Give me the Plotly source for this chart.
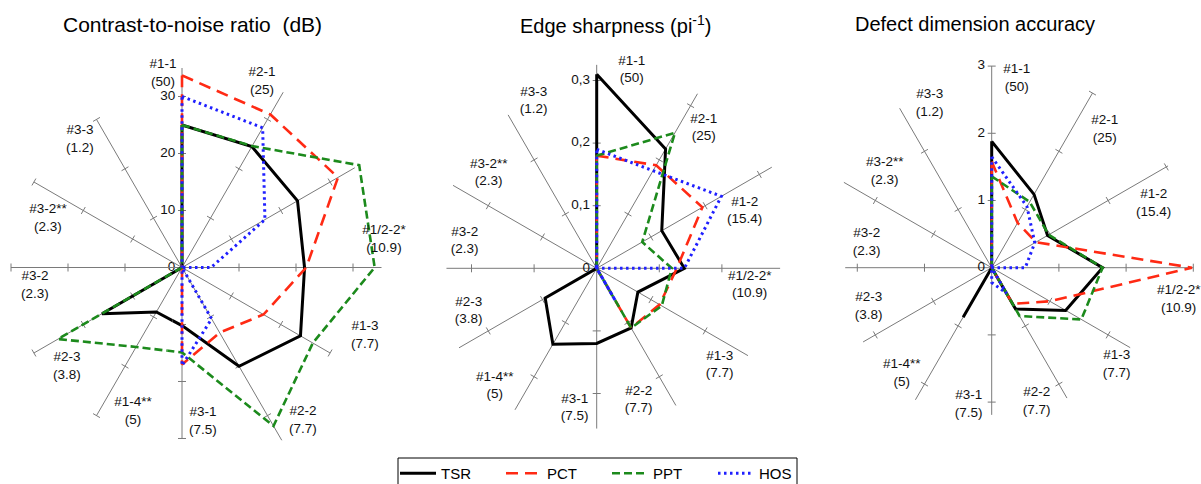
import math
import plotly.graph_objects as go

W, H = 1201, 484
FONT = "Liberation Sans, Arial, sans-serif"

# Twelve spokes, listed clockwise from the top
SPOKES = ["#1-1", "#2-1", "#1-2", "#1/2-2*", "#1-3", "#2-2",
          "#3-1", "#1-4**", "#2-3", "#3-2", "#3-2**", "#3-3"]
SPOKE_NOTES = ["50", "25", "15.4", "10.9", "7.7", "7.7",
               "7.5", "5", "3.8", "2.3", "2.3", "1.2"]
SERIES = ["TSR", "PCT", "PPT", "HOS"]

# Contrast-to-noise ratio (dB)
cnr_tsr = [25.0, 24.5, 23.4, 21.5, 24.0, 20.0, 10.2, 9.0, 16.2, 0, 0, 0]
cnr_pct = [33.7, 31.0, 31.6, 21.8, 16.5, 13.2, 17.0, 0, 0, 0, 0, 0]
cnr_ppt = [25.0, 24.6, 35.9, 33.8, 26.5, 32.1, 14.9, 16.1, 25.1, 0, 0, 0]
cnr_hos = [30.0, 28.3, 16.8, 5.1, 0, 10.4, 17.2, 0, 0, 0, 0, 0]
cnr_ticks = [0, 10, 20, 30]

# Edge sharpness (1/pixel)
edge_tsr = [0.31, 0.22, 0.12, 0.14, 0.076, 0.11, 0.12, 0.14, 0.095, 0, 0, 0]
edge_pct = [0.18, 0.19, 0.195, 0.128, 0.116, 0.11, 0, 0, 0, 0, 0, 0]
edge_ppt = [0.18, 0.25, 0.084, 0.12, 0.12, 0.11, 0, 0, 0, 0, 0, 0]
edge_hos = [0.19, 0.18, 0.23, 0.14, 0, 0.06, 0, 0, 0, 0, 0, 0]
edge_ticks = [0, 0.1, 0.2, 0.3]

# Defect dimension accuracy
dim_tsr = [1.88, 1.26, 0.96, 1.65, 1.27, 0.71, 0, 0.85, 0, 0, 0, 0]
dim_pct = [1.58, 0.77, 0.76, 2.98, 1.0, 0.62, 0, 0, 0, 0, 0, 0]
dim_ppt = [1.36, 1.13, 0.98, 1.65, 1.54, 0.83, 0, 0, 0, 0, 0, 0]
dim_hos = [1.65, 1.05, 0.74, 0.5, 0, 0.44, 0.22, 0, 0, 0, 0, 0]
dim_ticks = [0, 1, 2, 3]

TITLES = ["Contrast-to-noise ratio  (dB)",
          "Edge sharpness (pi<sup>-1</sup>)",
          "Defect dimension accuracy"]

STYLES = {
    "TSR": dict(color="#000000", width=3, dash="solid"),
    "PCT": dict(color="#ff2a14", width=2.6, dash="12px,7px"),
    "PPT": dict(color="#1c8a1c", width=2.6, dash="8px,4px"),
    "HOS": dict(color="#1f1fff", width=3, dash="2.5px,3.5px"),
}

# Panel geometry: centre (px), pixels per unit, spoke lengths, label offsets in px
# (right, up) from the centre, title position/size.  "parts" lists the polar
# sectors (degrees, screen orientation) and the radial range used for each; the
# first panel sits close to the left edge so it is built from two sectors.
PANELS = [
    dict(values=[cnr_tsr, cnr_pct, cnr_ppt, cnr_hos], ticks=cnr_ticks,
         cx=182.0, cy=267.5, scale=5.7,
         parts=[((-100, 100), 36.5), ((100, 260), 31.0)],
         spoke_len=[35, 35.5, 35, 35, 30, 35, 30, 30, 30, 30, 30, 30],
         label_off=[(-19, 194), (80, 186), (181, 136), (202, 28), (183, -68), (121, -153),
                    (21, -154), (-49, -144), (-115, -99), (-147, -18), (-134, 49), (-102, 128)],
         title_x=192, title_size=21),
    dict(values=[edge_tsr, edge_pct, edge_ppt, edge_hos], ticks=edge_ticks,
         cx=596.7, cy=268.3, scale=626.0,
         parts=[((0, 360), 0.33)],
         spoke_len=[0.325, 0.322, 0.323, 0.293, 0.279, 0.253, 0.256, 0.261, 0.254, 0.24, 0.265, 0.283],
         label_off=[(35, 198), (107, 140), (148, 57), (153, -17), (123, -97), (42, -132),
                    (-22, -140), (-102, -118), (-128, -43), (-132, 27), (-108, 95), (-63, 167)],
         title_x=615, title_size=20),
    dict(values=[dim_tsr, dim_pct, dim_ppt, dim_hos], ticks=dim_ticks,
         cx=991.7, cy=267.7, scale=67.2,
         parts=[((0, 360), 3.07)],
         spoke_len=[3.0, 3.0, 3.03, 3.0, 2.38, 2.24, 2.19, 2.27, 2.21, 2.18, 2.54, 2.74],
         label_off=[(25, 189), (113, 138), (162, 64), (187, -32), (125, -97), (45, -134),
                    (-23, -137), (-90, -106), (-123, -39), (-125, 25), (-107, 96), (-62, 164)],
         title_x=975, title_size=20),
]

ANGLES = [90 - 30 * i for i in range(len(SPOKES))]
TICK_HALF_PX = 4.0


def sector_bbox(sector):
    """Bounding box of a polar sector (unit radius, origin included), as plotly lays it out."""
    s0, s1 = sector
    arc = s1 - s0
    if arc >= 360:
        return -1.0, -1.0, 1.0, 1.0
    a0 = s0 % 360
    a1 = a0 + arc
    ax0, ay0 = math.cos(math.radians(a0)), math.sin(math.radians(a0))
    ax1, ay1 = math.cos(math.radians(a1)), math.sin(math.radians(a1))
    if (a0 <= 90 and a1 >= 90) or (a0 > 90 and a1 >= 450):
        y1 = 1.0
    elif ay0 <= 0 and ay1 <= 0:
        y1 = 0.0
    else:
        y1 = max(ay0, ay1)
    if (a0 <= 180 and a1 >= 180) or (a0 > 180 and a1 >= 540):
        x0 = -1.0
    elif ax0 >= 0 and ax1 >= 0:
        x0 = 0.0
    else:
        x0 = min(ax0, ax1)
    if (a0 <= 270 and a1 >= 270) or (a0 > 270 and a1 >= 630):
        y0 = -1.0
    elif ay0 >= 0 and ay1 >= 0:
        y0 = 0.0
    else:
        y0 = min(ay0, ay1)
    if a1 >= 360:
        x1 = 1.0
    elif ax0 <= 0 and ax1 <= 0:
        x1 = 0.0
    else:
        x1 = max(ax0, ax1)
    return x0, y0, x1, y1


def in_sector(angle, sector):
    s0, s1 = sector
    if s1 - s0 >= 360:
        return True
    return (angle - s0) % 360 < (s1 - s0)


fig = go.Figure()
layout_polars = {}
annotations = []
n_sub = 0

for k, p in enumerate(PANELS):
    # text items of this panel: (r, theta, text)
    label_items = []
    for lab, note, (dx, dy) in zip(SPOKES, SPOKE_NOTES, p["label_off"]):
        label_items.append((math.hypot(dx, dy) / p["scale"],
                            math.degrees(math.atan2(dy, dx)),
                            f"{lab}<br>({note})"))
    tick_items = [(v, 90.0, f"{v:g}".replace(".", ",")) for v in p["ticks"]]

    for j, (sector, rmax) in enumerate(p["parts"]):
        n_sub += 1
        sub = "polar" if n_sub == 1 else f"polar{n_sub}"

        # spokes
        sr, st = [], []
        for a, L in zip(ANGLES, p["spoke_len"]):
            sr += [0, L, None]
            st += [a, a, None]
        fig.add_trace(go.Scatterpolar(r=sr, theta=st, mode="lines", subplot=sub,
                                      line=dict(color="#7a7a7a", width=1),
                                      showlegend=False, hoverinfo="skip"))

        # small cross ticks on each spoke
        h = TICK_HALF_PX / p["scale"]
        tr, tt = [], []
        for a, L in zip(ANGLES, p["spoke_len"]):
            for v in p["ticks"][1:]:
                if v <= L * 1.02:
                    re_ = math.hypot(v, h)
                    d = math.degrees(math.atan2(h, v))
                    tr += [re_, re_, None]
                    tt += [a - d, a + d, None]
        fig.add_trace(go.Scatterpolar(r=tr, theta=tt, mode="lines", subplot=sub,
                                      line=dict(color="#7a7a7a", width=1),
                                      showlegend=False, hoverinfo="skip"))

        # data polygons
        for name, vals in zip(SERIES, p["values"]):
            s = STYLES[name]
            fig.add_trace(go.Scatterpolar(
                r=vals + [vals[0]], theta=ANGLES + [ANGLES[0]], mode="lines",
                subplot=sub, name=name, legendgroup=name,
                showlegend=(k == 0 and j == 0),
                line=dict(color=s["color"], width=s["width"], dash=s["dash"])))

        # spoke labels falling in this sector
        lab_here = [it for it in label_items if in_sector(it[1], sector)]
        if lab_here:
            fig.add_trace(go.Scatterpolar(
                r=[it[0] for it in lab_here], theta=[it[1] for it in lab_here],
                text=[it[2] for it in lab_here], mode="text", subplot=sub,
                textfont=dict(family=FONT, size=13.5, color="#111111"),
                textposition="middle center", showlegend=False,
                hoverinfo="skip", cliponaxis=False))

        # radial value labels along the vertical spoke
        tick_here = [it for it in tick_items if in_sector(it[1], sector)]
        if tick_here:
            fig.add_trace(go.Scatterpolar(
                r=[it[0] for it in tick_here], theta=[it[1] for it in tick_here],
                text=[it[2] for it in tick_here], mode="markers+text", subplot=sub,
                marker=dict(size=9, opacity=0),
                textfont=dict(family=FONT, size=13.5, color="#111111"),
                textposition="middle left", showlegend=False,
                hoverinfo="skip", cliponaxis=False))

        R = rmax * p["scale"]
        x0, y0, x1, y1 = sector_bbox(sector)
        layout_polars[sub] = dict(
            domain=dict(x=[(p["cx"] + R * x0) / W, (p["cx"] + R * x1) / W],
                        y=[1 - (p["cy"] - R * y0) / H, 1 - (p["cy"] - R * y1) / H]),
            sector=list(sector),
            bgcolor="rgba(0,0,0,0)",
            radialaxis=dict(visible=False, range=[0, rmax]),
            angularaxis=dict(visible=False, rotation=0, direction="counterclockwise"),
        )

    annotations.append(dict(text=TITLES[k], x=p["title_x"] / W, y=1 - 24 / H,
                            xref="paper", yref="paper", showarrow=False,
                            xanchor="center", yanchor="middle",
                            font=dict(family=FONT, size=p["title_size"], color="#000000")))

fig.update_layout(
    width=W, height=H,
    margin=dict(l=0, r=0, t=0, b=0, autoexpand=False),
    paper_bgcolor="white", plot_bgcolor="white",
    font=dict(family=FONT, color="#000000"),
    annotations=annotations,
    legend=dict(orientation="h", x=395 / W, xanchor="left",
                y=(H - 457) / H, yanchor="top",
                borderwidth=0, bgcolor="rgba(0,0,0,0)",
                font=dict(family=FONT, size=15, color="#000000"),
                entrywidth=55, entrywidthmode="pixels", itemwidth=36),
    shapes=[dict(type="rect", xref="paper", yref="paper",
                 x0=398 / W, x1=797 / W, y0=-0.05, y1=(H - 458) / H,
                 line=dict(color="#000000", width=1), fillcolor="rgba(0,0,0,0)",
                 layer="below")],
    **layout_polars,
)

fig.write_html("out.html")
